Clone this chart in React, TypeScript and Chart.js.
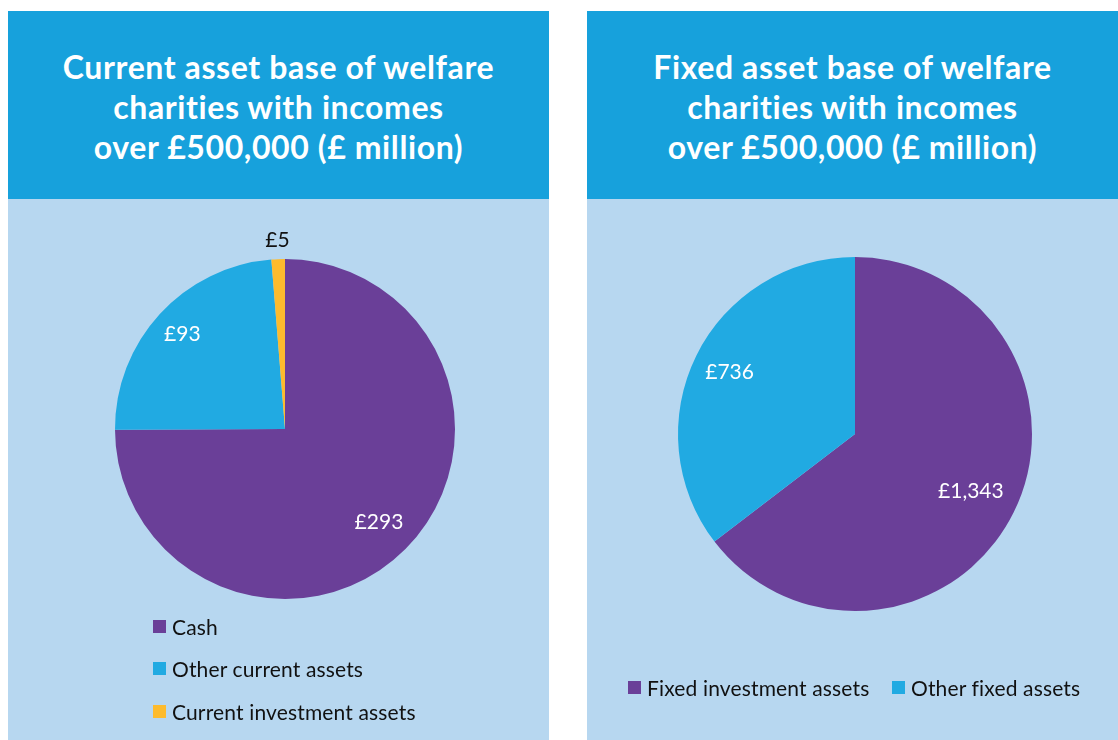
import React, { useEffect, useRef } from "react";
import { Chart, registerables } from "chart.js";

Chart.register(...registerables);

const currentLabels = ["Cash", "Other current assets", "Current investment assets"];
const currentValues = [293, 93, 5];
const fixedLabels = ["Fixed investment assets", "Other fixed assets"];
const fixedValues = [1343, 736];

const PURPLE = "#6a3f98";
const CYAN = "#21aae2";
const YELLOW = "#fdbb2d";
const HEADER = "#17a1dc";
const BODY = "#b7d7f0";

const currentColors = [PURPLE, CYAN, YELLOW];
const fixedColors = [PURPLE, CYAN];

const FONT = "Lato, 'Open Sans', sans-serif";

const labelPlugin = (factors: number[]) => ({
  id: "sliceLabels",
  afterDatasetsDraw(chart: any) {
    const ctx = chart.ctx;
    const meta = chart.getDatasetMeta(0);
    const values = chart.data.datasets[0].data as number[];
    ctx.save();
    ctx.font = `21px ${FONT}`;
    ctx.textAlign = "center";
    ctx.textBaseline = "middle";
    meta.data.forEach((arc: any, i: number) => {
      const p = arc.getProps(["x", "y", "startAngle", "endAngle", "outerRadius"], true);
      const mid = (p.startAngle + p.endAngle) / 2;
      const span = p.endAngle - p.startAngle;
      const outside = span < 0.2;
      const f = outside ? 1.11 : factors[i] ?? 0.78;
      const x = p.x + Math.cos(mid) * p.outerRadius * f;
      const y = p.y + Math.sin(mid) * p.outerRadius * f;
      ctx.fillStyle = outside ? "#111111" : "#ffffff";
      ctx.fillText("£" + values[i].toLocaleString("en-GB"), x, y);
    });
    ctx.restore();
  },
});

type PieProps = {
  labels: string[];
  values: number[];
  colors: string[];
  width: number;
  height: number;
  padding: { left: number; top: number; right: number; bottom: number };
  factors: number[];
};

function Pie({ labels, values, colors, width, height, padding, factors }: PieProps) {
  const ref = useRef<HTMLCanvasElement | null>(null);
  useEffect(() => {
    if (!ref.current) return;
    const chart = new Chart(ref.current, {
      type: "pie",
      data: {
        labels,
        datasets: [
          {
            data: values,
            backgroundColor: colors,
            borderWidth: 0,
          },
        ],
      },
      options: {
        animation: false,
        responsive: false,
        maintainAspectRatio: false,
        layout: { padding },
        plugins: {
          legend: { display: false },
          tooltip: { enabled: false },
        },
      },
      plugins: [labelPlugin(factors)],
    });
    return () => chart.destroy();
  }, []);
  return (
    <canvas
      ref={ref}
      width={width}
      height={height}
      style={{ position: "absolute", left: 0, top: 0, width, height }}
    />
  );
}

function LegendItem({ color, text, style }: { color: string; text: string; style: React.CSSProperties }) {
  return (
    <div
      style={{
        position: "absolute",
        display: "flex",
        alignItems: "center",
        fontFamily: FONT,
        fontSize: 21,
        letterSpacing: 0.15,
        fontVariantLigatures: "none",
        color: "#111111",
        whiteSpace: "nowrap",
        height: 24,
        ...style,
      }}
    >
      <span style={{ display: "inline-block", width: 13, height: 13, background: color, marginRight: 6 }} />
      <span>{text}</span>
    </div>
  );
}

function Header({ lines, width }: { lines: string[]; width: number }) {
  return (
    <div
      style={{
        position: "absolute",
        left: 0,
        top: 0,
        width,
        height: 188,
        background: HEADER,
        display: "flex",
        flexDirection: "column",
        justifyContent: "center",
        alignItems: "center",
        paddingTop: 4,
        boxSizing: "border-box",
        color: "#ffffff",
        fontFamily: FONT,
        fontWeight: 700,
        fontSize: 32,
        letterSpacing: 0.6,
        fontVariantLigatures: "none",
        lineHeight: "40px",
        textAlign: "center",
      }}
    >
      {lines.map((l, i) => (
        <div key={i}>{l}</div>
      ))}
    </div>
  );
}

export default function App() {
  return (
    <div style={{ position: "fixed", left: 0, top: 0, width: 1118, height: 740, background: "#ffffff", overflow: "hidden" }}>
      {/* Left panel */}
      <div style={{ position: "absolute", left: 8, top: 11, width: 541, height: 729 }}>
        <Header
          width={541}
          lines={["Current asset base of welfare", "charities with incomes", "over £500,000 (£ million)"]}
        />
        <div style={{ position: "absolute", left: 0, top: 188, width: 541, height: 541, background: BODY }}>
          <Pie
            labels={currentLabels}
            values={currentValues}
            colors={currentColors}
            width={541}
            height={541}
            padding={{ left: 107, top: 60, right: 94, bottom: 141 }}
            factors={[0.78, 0.82, 1.1]}
          />
          {currentLabels.map((l, i) => (
            <LegendItem key={l} color={currentColors[i]} text={l} style={{ left: 145, top: 415 + i * 42.5 }} />
          ))}
        </div>
      </div>
      {/* Right panel */}
      <div style={{ position: "absolute", left: 587, top: 11, width: 531, height: 729 }}>
        <Header
          width={531}
          lines={["Fixed asset base of welfare", "charities with incomes", "over £500,000 (£ million)"]}
        />
        <div style={{ position: "absolute", left: 0, top: 188, width: 531, height: 541, background: BODY }}>
          <Pie
            labels={fixedLabels}
            values={fixedValues}
            colors={fixedColors}
            width={531}
            height={541}
            padding={{ left: 91, top: 58, right: 86, bottom: 129 }}
            factors={[0.73, 0.79]}
          />
          <LegendItem color={fixedColors[0]} text={fixedLabels[0]} style={{ left: 41, top: 476 }} />
          <LegendItem color={fixedColors[1]} text={fixedLabels[1]} style={{ left: 305, top: 476 }} />
        </div>
      </div>
    </div>
  );
}
